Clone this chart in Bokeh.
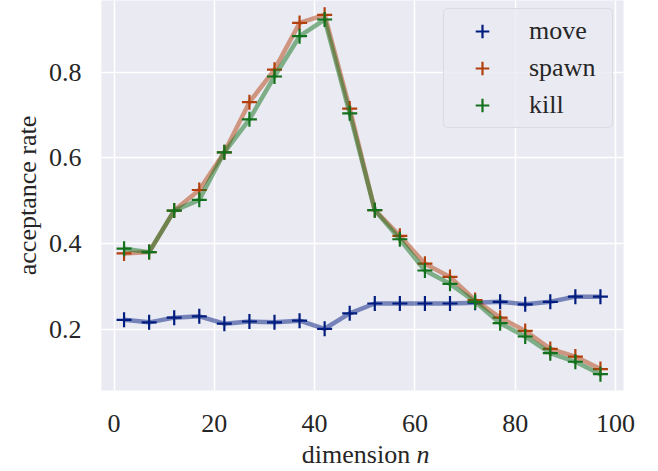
from bokeh.plotting import figure
from bokeh.models import (Range1d, FixedTicker, Legend, LegendItem, Label)
from bokeh.embed import file_html
from bokeh.resources import INLINE

# ---- data ----
dims = [2, 7, 12, 17, 22, 27, 32, 37, 42, 47, 52, 57, 62, 67, 72, 77, 82, 87, 92, 97]
move = [0.222, 0.216, 0.227, 0.230, 0.213, 0.218, 0.216, 0.220, 0.201, 0.237,
        0.260, 0.260, 0.260, 0.260, 0.262, 0.264, 0.258, 0.264, 0.276, 0.276]
spawn = [0.377, 0.380, 0.477, 0.525, 0.613, 0.730, 0.806, 0.915, 0.934, 0.715,
         0.478, 0.418, 0.353, 0.322, 0.268, 0.227, 0.196, 0.154, 0.136, 0.107]
kill = [0.388, 0.380, 0.477, 0.502, 0.613, 0.690, 0.790, 0.884, 0.923, 0.704,
        0.478, 0.410, 0.337, 0.306, 0.264, 0.214, 0.183, 0.144, 0.124, 0.095]
series_names = ["move", "spawn", "kill"]
series_colors = ["#001c7f", "#b1400d", "#12711c"]
x_ticks = [0, 20, 40, 60, 80, 100]
y_ticks = [0.2, 0.4, 0.6, 0.8]
x_label_main = "dimension\u00a0\u00a0"
x_label_var = "n"
y_label = "acceptance rate"

FONT = "Liberation Serif"
TEXT_COLOR = "#262626"
FS = "26px"

p = figure(width=658, height=471, output_backend="svg", toolbar_location=None,
           x_range=Range1d(-2.5, 101.6), y_range=Range1d(0.0569, 0.9674),
           min_border_left=101, min_border_right=35, min_border_top=0,
           min_border_bottom=81)
p.background_fill_color = "#eaeaf2"
p.border_fill_color = "white"
p.outline_line_color = None

for ax in (p.xaxis, p.yaxis):
    ax.axis_line_color = None
    ax.major_tick_line_color = None
    ax.minor_tick_line_color = None
    ax.major_tick_in = 0
    ax.major_tick_out = 0
    ax.major_label_text_font = FONT
    ax.major_label_text_font_size = FS
    ax.major_label_text_color = TEXT_COLOR
    ax.axis_label_text_font = FONT
    ax.axis_label_text_font_size = FS
    ax.axis_label_text_color = TEXT_COLOR
    ax.axis_label_text_font_style = "normal"

p.xaxis.ticker = FixedTicker(ticks=x_ticks)
p.yaxis.ticker = FixedTicker(ticks=y_ticks)
p.xaxis.major_label_standoff = 24
p.xaxis.axis_label = x_label_main
p.xaxis.axis_label_standoff = 5
p.yaxis.major_label_standoff = 20
p.yaxis.axis_label = y_label
p.yaxis.axis_label_standoff = 4

p.grid.grid_line_color = "white"
p.grid.grid_line_width = 1.5
p.xgrid.ticker = FixedTicker(ticks=x_ticks)
p.ygrid.ticker = FixedTicker(ticks=y_ticks)

items = []
for name, vals, col in zip(series_names, [move, spawn, kill], series_colors):
    p.line(dims, vals, line_color=col, line_alpha=0.5, line_width=4.5)
    r = p.scatter(dims, vals, marker="cross", size=15, line_color=col,
                  line_width=2.2)
    items.append(LegendItem(label=name, renderers=[r]))

legend = Legend(items=items, location=(342, 262))
legend.padding = 5
legend.spacing = 3
legend.glyph_width = 66
legend.glyph_height = 34
legend.label_height = 34
legend.label_width = 78
legend.label_standoff = 14
legend.label_text_font = FONT
legend.label_text_font_size = FS
legend.label_text_color = TEXT_COLOR
legend.background_fill_color = "#eaeaf2"
legend.background_fill_alpha = 0.8
legend.border_line_color = "#cccccc"
legend.border_line_width = 1.5
legend.border_radius = 5
p.add_layout(legend, "center")

# italic variable of the x axis label, in the (unclipped) right side panel
p.add_layout(Label(x=-207, y=-64, x_units="screen", y_units="screen",
                   text=x_label_var, text_align="left",
                   text_baseline="alphabetic", text_font=FONT,
                   text_font_style="italic",
                   text_font_size=FS, text_color=TEXT_COLOR), "right")

open("out.html", "w").write(file_html(p, INLINE))
